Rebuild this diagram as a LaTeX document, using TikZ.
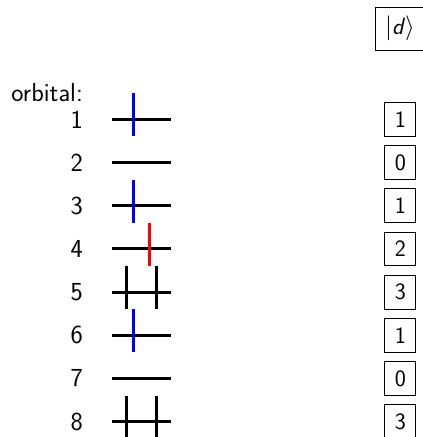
\documentclass[tikz,border=0pt]{standalone}
\usetikzlibrary{positioning}
\begin{document}
\begin{tikzpicture}[x=1pt,y=-1pt,
    lab/.style={anchor=east,inner sep=0pt,font=\sffamily\fontsize{26}{31}\selectfont},
    occ/.style={draw,line width=1pt,inner xsep=10pt,inner ysep=9pt,font=\sffamily\fontsize{23.5}{28}\selectfont},
    level/.style={line width=3pt},
    spin/.style={line width=3pt}]
  \useasboundingbox[clip] (0,0) rectangle (423,437);
  \node[lab,anchor=base east] (head) at (83,101.7) {orbital:};
  \node[occ,anchor=north west] (ket) at (374.7,6.7) {$|$\textit{d}$\rangle$};
  % one row per orbital: label, level, spins, occupation box
  \foreach \d [count=\i] in {1,0,1,2,3,1,0,3}{
    \pgfmathsetmacro{\y}{119.3+43.2*(\i-1)}
    \node[lab] (n\i) at (83,\y) {\i};
    \coordinate (l\i) at (112,\y); \coordinate (r\i) at (171,\y);
    \draw[level] (l\i) -- (r\i);
    \ifnum\d=1\draw[spin,blue](133,\y-26)--(133,\y+17);\fi
    \ifnum\d=2\draw[spin,red](149,\y-26)--(149,\y+17);\fi
    \ifnum\d=3\draw[spin](126,\y-26)--(126,\y+17);\draw[spin](156,\y-26)--(156,\y+17);\fi
    \node[occ] (d\i) at (400.4,\y) {\d};
  }
\end{tikzpicture}
\end{document}
